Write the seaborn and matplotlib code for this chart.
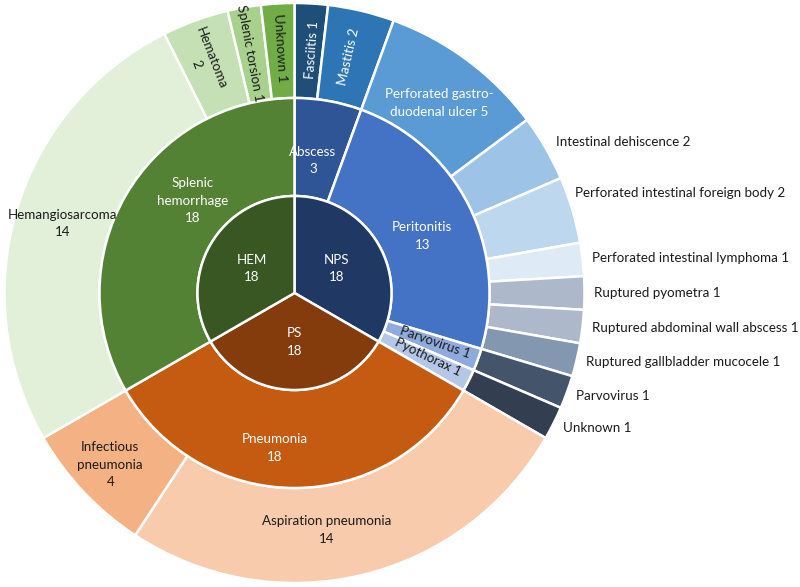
import numpy as np
import matplotlib
matplotlib.use("Agg")
import matplotlib.pyplot as plt
import seaborn as sns

# ---------------- data ----------------
inner_labels = ["NPS", "PS", "HEM"]
inner_values = [18, 18, 18]
inner_colors = ["#203864", "#843C0C", "#385723"]

middle_labels = ["Abscess", "Peritonitis", "Parvovirus", "Pyothorax", "Pneumonia", "Splenic hemorrhage"]
middle_values = [3, 13, 1, 1, 18, 18]
middle_colors = ["#2F5597", "#4472C4", "#8FAADC", "#B4C7E7", "#C55A11", "#548235"]

outer_labels = ["Fasciitis", "Mastitis", "Perforated gastro-duodenal ulcer", "Intestinal dehiscence",
                "Perforated intestinal foreign body", "Perforated intestinal lymphoma",
                "Ruptured pyometra", "Ruptured abdominal wall abscess", "Ruptured gallbladder mucocele",
                "Parvovirus", "Unknown", "Aspiration pneumonia", "Infectious pneumonia",
                "Hemangiosarcoma", "Hematoma", "Splenic torsion", "Unknown"]
outer_values = [1, 2, 5, 2, 2, 1, 1, 1, 1, 1, 1, 14, 4, 14, 2, 1, 1]
outer_colors = ["#1F4E79", "#2E75B6", "#5B9BD5", "#9DC3E6", "#BDD7EE", "#DEEBF7",
                "#ADB9CA", "#ADB9CA", "#8497B0", "#44546A", "#333F50",
                "#F8CBAD", "#F4B183", "#E2F0D9", "#C5E0B4", "#A9D18E", "#70AD47"]

# ---------------- layout ----------------
W, H = 800, 587
CX, CY = 294.5, 587 - 293
R1, R2, R3 = 97, 195, 290
FONT = ["Lato", "DejaVu Sans"]
FS = 9.6
LS = 1.55

# label layout: (angle offset deg, radius, mode, format, color)
inner_layout = [(0, 49, "h", "{l}\n{v}", "white")] * 3
middle_layout = [
    (-2.1, 134, "h", "{l}\n{v}", "white"),
    (2.6, 140, "h", "{l}\n{v}", "white"),
    (-0.8, 149, "r", "{l} {v}", "#1a1a1a"),
    (-1.1, 148, "r", "{l} {v}", "#1a1a1a"),
    (7.2, 156, "h", "{l}\n{v}", "white"),
    (12.2, 137, "h", "Splenic\nhemorrhage\n{v}", "white"),
]
outer_layout = [
    (0.8, 244, "r", "{l} {v}", "white"),
    (-0.5, 242, "r", "{l} {v}", "white"),
    (0.7, 239, "h", "Perforated gastro-\nduodenal ulcer {v}", "white"),
    (0, 302, "o", "{l} {v}", "#1a1a1a"),
    (-3, 298, "o", "{l} {v}", "#1a1a1a"),
    (0, 300, "o", "{l} {v}", "#1a1a1a"),
    (0, 300, "o", "{l} {v}", "#1a1a1a"),
    (0, 300, "o", "{l} {v}", "#1a1a1a"),
    (0, 300, "o", "{l} {v}", "#1a1a1a"),
    (0, 300, "o", "{l} {v}", "#1a1a1a"),
    (0, 300, "o", "{l} {v}", "#1a1a1a"),
    (5.5, 239, "h", "{l}\n{v}", "#1a1a1a"),
    (0.3, 252, "h", "Infectious\npneumonia\n{v}", "#1a1a1a"),
    (0, 242, "h", "{l}\n{v}", "#1a1a1a"),
    (-1.3, 249, "r", "{l}\n{v}", "#1a1a1a"),
    (-0.5, 244, "r", "{l} {v}", "#1a1a1a"),
    (-0.1, 246, "r", "{l} {v}", "#1a1a1a"),
]

sns.set_theme(style="white")
plt.rcParams["font.family"] = FONT

fig = plt.figure(figsize=(W / 100, H / 100), dpi=100)
ax = fig.add_axes([0, 0, 1, 1])

edge = dict(edgecolor="white", linewidth=1.8)
ax.pie(outer_values, radius=R3, center=(CX, CY), startangle=90, counterclock=False,
       colors=outer_colors, wedgeprops=dict(width=R3 - R2, **edge), frame=True)
ax.pie(middle_values, radius=R2, center=(CX, CY), startangle=90, counterclock=False,
       colors=middle_colors, wedgeprops=dict(width=R2 - R1, **edge), frame=True)
ax.pie(inner_values, radius=R1, center=(CX, CY), startangle=90, counterclock=False,
       colors=inner_colors, wedgeprops=dict(**edge), frame=True)
ax.set_xlim(0, W)
ax.set_ylim(0, H)
ax.set_aspect("equal")
ax.axis("off")


def place(labels, values, layout, fs):
    total = float(sum(values))
    start = 0.0
    for lab, val, (doff, r, mode, fmt, col) in zip(labels, values, layout):
        span = 360.0 * val / total
        a = start + span / 2 + doff
        start += span
        rad = np.deg2rad(a)
        x = CX + r * np.sin(rad)
        y = CY + r * np.cos(rad)
        txt = fmt.format(l=lab, v=val)
        if mode == "h":
            ax.text(x, y, txt, ha="center", va="center", color=col, fontsize=fs,
                    linespacing=LS)
        elif mode == "r":
            rot = 90 - a if (a % 360) < 180 else 270 - a
            ax.text(x, y, txt, ha="center", va="center", color=col, fontsize=fs,
                    rotation=rot, rotation_mode="anchor", linespacing=1.35)
        else:
            ax.text(x, y, txt, ha="left", va="center", color=col, fontsize=fs)


place(inner_labels, inner_values, inner_layout, FS)
place(middle_labels, middle_values, middle_layout, FS)
place(outer_labels, outer_values, outer_layout, FS)

fig.savefig("out.png", dpi=100, facecolor="white")
